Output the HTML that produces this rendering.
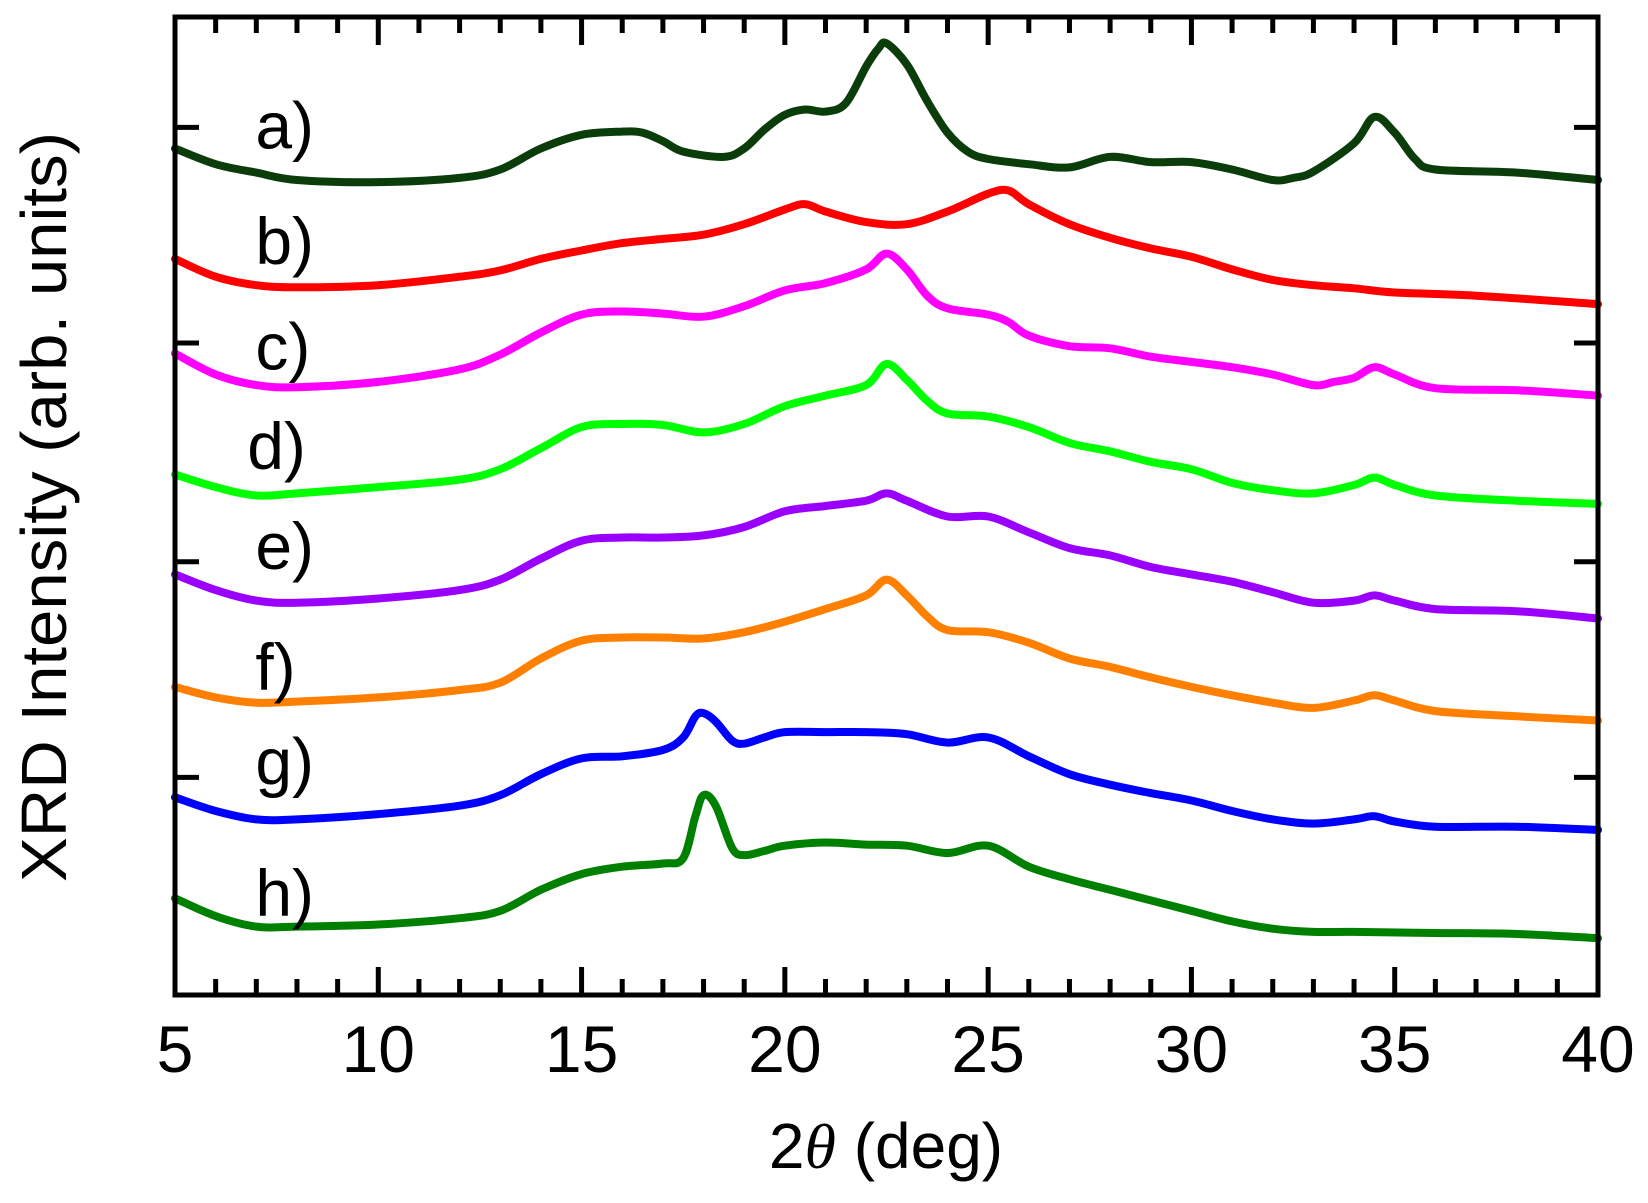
<!DOCTYPE html>
<html><head><meta charset="utf-8"><style>
html,body{margin:0;padding:0;background:#fff;}
svg text{font-family:"Liberation Sans",sans-serif;fill:#000;}
</style></head><body>
<svg id="chart" width="1648" height="1198" viewBox="0 0 1648 1198" xmlns="http://www.w3.org/2000/svg">
<g id="curves"></g>
<g id="axes"></g>
<text x="886" y="1168" font-size="64" text-anchor="middle">2<tspan font-family="Liberation Serif" font-style="italic">θ</tspan> (deg)</text>
<text transform="translate(66,507) rotate(-90)" font-size="64" text-anchor="middle" textLength="750" lengthAdjust="spacingAndGlyphs">XRD Intensity (arb. units)</text>
</svg>
<script>
const xTicks = [5,10,15,20,25,30,35,40];
const xTickLabels = ["5","10","15","20","25","30","35","40"];
const yTicks = [880,675,467,262];
const seriesNames = ["a)","b)","c)","d)","e)","f)","g)","h)"];
const seriesColors = ["#0b3d0b","#ff0000","#ff00ff","#00ff00","#9900ff","#ff8000","#0000ff","#008000"];
const labelX = [5.5,5.5,5.5,5.3,5.5,5.5,5.5,5.5];
const labelY = [860,750,650,555,460,345,255,130];
const xa = [5,6,7,8,10,12,13,14,15,16,16.5,17,17.5,18.5,19,19.5,20,20.5,21,21.5,22,22.3,22.5,23,23.5,24,24.5,25,26,27,28,29,30,31,32,32.5,33,34,34.5,35,35.5,36,38,40];
const ya = [860,845,837,830,828,832,840,860,873,876,875,867,857,852,860,878,892,897,895,903,938,955,960,940,905,875,857,850,845,842,852,847,847,840,830,832,838,865,890,875,850,840,837,830];
const xb = [5,6,7,8,10,12,13,14,15,16,17,18,19,20,20.5,21,22,23,24,25,25.5,26,27,28,29,30,31,32,33,34,35,37,40];
const yb = [755,738,730,728,730,738,744,755,763,770,774,778,788,802,807,800,790,788,800,817,820,807,788,775,765,757,745,735,730,727,723,720,712];
const xc = [5,6,7,8,10,12,13,14,15,16,17,18,19,20,21,22,22.5,23,23.5,24,25,25.5,26,27,28,29,30,31,32,33,33.5,34,34.5,35,36,38,40];
const yc = [665,645,635,633,638,650,664,685,702,705,703,700,710,725,732,745,760,745,720,708,702,695,682,672,670,662,657,652,645,635,638,642,652,645,632,630,625];
const xd = [5,6,7,8,10,12,13,14,15,16,17,18,19,20,21,22,22.5,23,23.5,24,25,26,27,28,29,30,31,32,33,34,34.5,35,36,38,40];
const yd = [550,538,530,532,538,545,555,575,595,598,597,590,598,615,625,635,655,640,620,608,605,595,580,572,562,555,542,535,532,540,547,540,530,525,522];
const xe = [5,6,7,8,10,12,13,14,15,16,17,18,19,20,21,22,22.5,23,24,25,26,27,28,29,30,31,32,33,34,34.5,35,36,38,40];
const ye = [455,440,430,428,432,440,450,470,487,490,490,492,500,515,520,525,532,525,510,510,495,480,473,462,455,448,438,428,430,435,430,422,420,413];
const xf = [5,6,7,8,10,12,13,14,15,16,17,18,19,20,21,22,22.5,23,23.5,24,25,26,27,28,29,30,31,32,33,34,34.5,35,36,38,40];
const yf = [348,338,333,334,338,345,352,375,392,395,395,394,400,410,422,435,450,435,415,402,400,390,375,367,357,348,340,333,328,335,340,335,325,320,316];
const xg = [5,6,7,8,10,12,13,14,15,16,17,17.5,17.8,18,18.3,18.7,19,19.5,20,21,22,23,24,25,26,27,28,29,30,31,32,33,34,34.5,35,36,38,40];
const yg = [243,230,222,222,227,235,245,265,280,282,288,300,320,323,315,297,294,300,305,305,305,303,295,300,282,265,255,247,240,230,222,218,222,225,220,215,215,212];
const xh = [5,6,7,8,10,12,13,14,15,16,17,17.5,17.8,18,18.3,18.7,19,19.5,20,21,22,23,24,25,26,27,28,29,30,31,32,33,34,36,38,40];
const yh = [147,130,120,120,122,128,135,155,170,177,180,185,225,245,235,195,188,192,197,200,198,197,190,197,177,165,155,145,135,125,118,115,115,114,113,109];
const seriesX = [xa,xb,xc,xd,xe,xf,xg,xh];
const seriesY = [ya,yb,yc,yd,ye,yf,yg,yh];

const NS = "http://www.w3.org/2000/svg";
const L = 175, R = 1598, T = 17, B = 995;
function xScale(x){ return L + (x - 5) * (R - L) / 35; }
function yScale(v){ return T + ((1000 - v) - 15) * (B - T) / 930; }

function mk(tag, attrs, parent){
  const e = document.createElementNS(NS, tag);
  for (const k in attrs) e.setAttribute(k, attrs[k]);
  parent.appendChild(e);
  return e;
}
const curves = document.getElementById('curves');
const axes = document.getElementById('axes');

function smoothPath(px, py){
  let d = "M" + px[0].toFixed(1) + "," + py[0].toFixed(1);
  for (let i = 0; i < px.length - 1; i++){
    const x0 = px[Math.max(i-1,0)], y0 = py[Math.max(i-1,0)];
    const x1 = px[i], y1 = py[i], x2 = px[i+1], y2 = py[i+1];
    const x3 = px[Math.min(i+2,px.length-1)], y3 = py[Math.min(i+2,px.length-1)];
    const c1x = x1 + (x2 - x0) / 6, c1y = y1 + (y2 - y0) / 6;
    const c2x = x2 - (x3 - x1) / 6, c2y = y2 - (y3 - y1) / 6;
    d += " C" + c1x.toFixed(1) + "," + c1y.toFixed(1) + " " + c2x.toFixed(1) + "," + c2y.toFixed(1) + " " + x2.toFixed(1) + "," + y2.toFixed(1);
  }
  return d;
}

for (let s = 0; s < seriesX.length; s++){
  const px = seriesX[s].map(xScale), py = seriesY[s].map(yScale);
  const p = mk('path', {d: smoothPath(px, py), fill: 'none', stroke: seriesColors[s], 'stroke-width': 8, 'stroke-linejoin': 'round', 'stroke-linecap': 'round'}, curves);
  
  
  const t = mk('text', {x: xScale(labelX[s]) + 60, y: yScale(labelY[s]), 'font-size': 66}, curves);
  t.textContent = seriesNames[s];
  
  
}

const frame = mk('rect', {x: L, y: T, width: R - L, height: B - T, fill: 'none', stroke: '#000', 'stroke-width': 5}, axes);



for (let x = 5; x <= 40; x++){
  const major = x % 5 === 0;
  const len = major ? 28 : 16;
  const X = xScale(x);
  const tb = mk('line', {x1: X, y1: B, x2: X, y2: B - len, stroke: '#000', 'stroke-width': 5}, axes);
  
  
  const tt = mk('line', {x1: X, y1: T, x2: X, y2: T + len, stroke: '#000', 'stroke-width': 5}, axes);
  
  
}
xTicks.forEach((v, i) => {
  const t = mk('text', {x: xScale(v), y: 1072, 'font-size': 66, 'text-anchor': 'middle'}, axes);
  t.textContent = xTickLabels[i];
  
  
});
yTicks.forEach(v => {
  const Y = yScale(v);
  const a = mk('line', {x1: L, y1: Y, x2: L + 24, y2: Y, stroke: '#000', 'stroke-width': 5}, axes);
  
  
  const b = mk('line', {x1: R, y1: Y, x2: R - 24, y2: Y, stroke: '#000', 'stroke-width': 5}, axes);
  
  
});
</script>
</body></html>
